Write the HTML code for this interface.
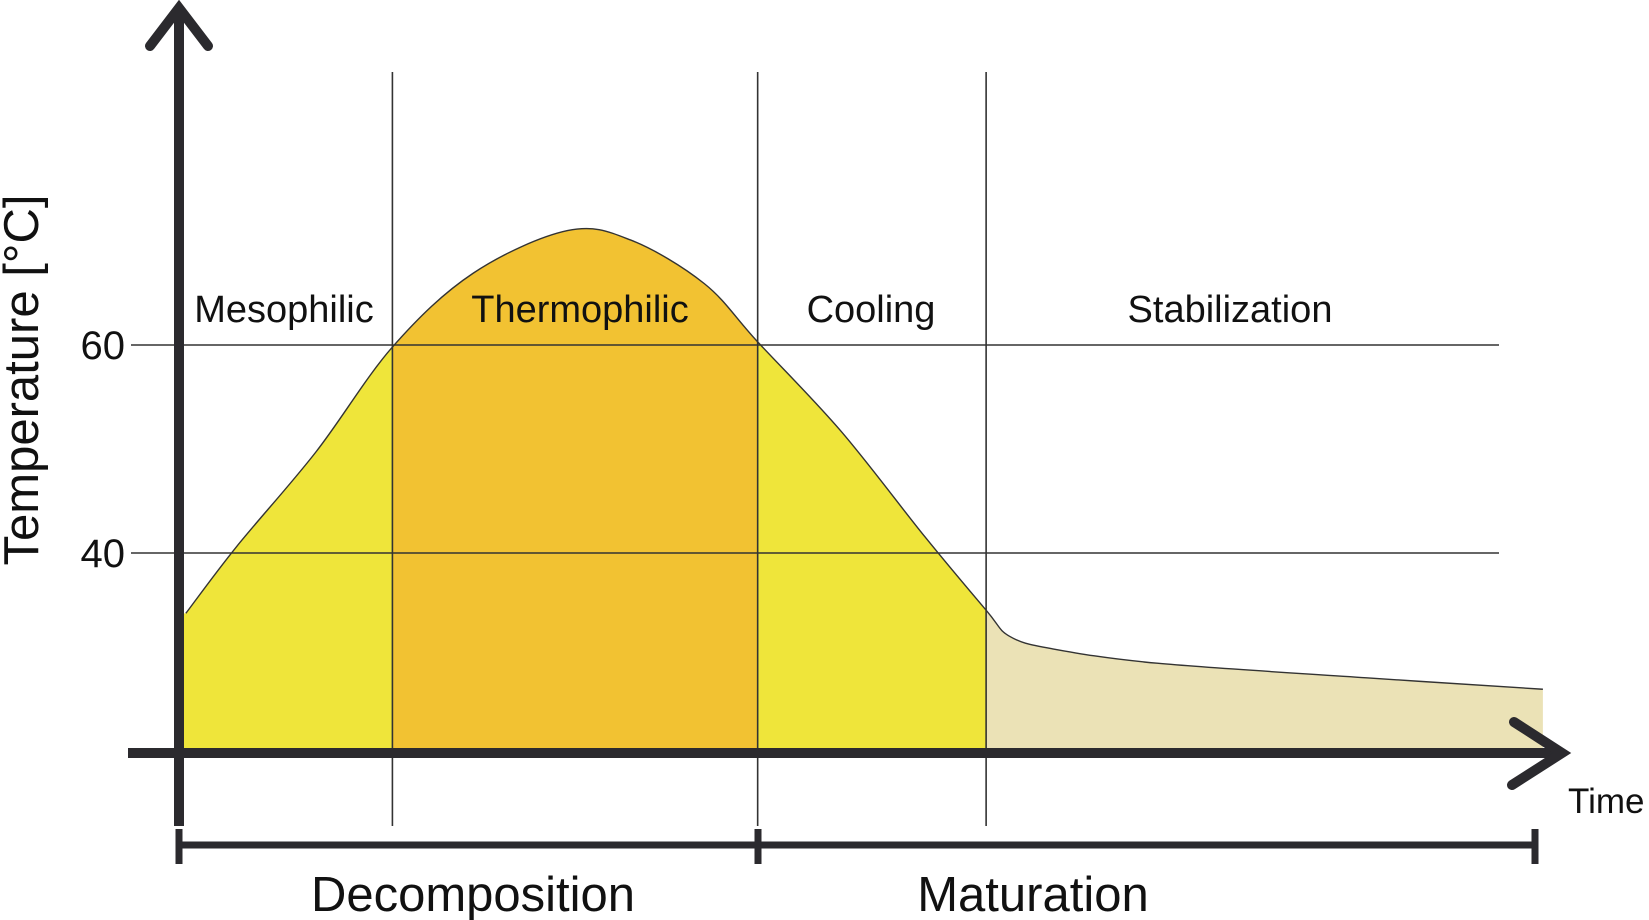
<!DOCTYPE html>
<html><head><meta charset="utf-8"><style>
html,body{margin:0;padding:0;background:#fff}
svg{display:block;font-family:"Liberation Sans",Arial,sans-serif}
</style></head><body>
<svg id="chart" width="1649" height="920" viewBox="0 0 1649 920">
<defs>
<clipPath id="c1"><rect x="0" y="0" width="392" height="920"/></clipPath>
<clipPath id="c2"><rect x="392" y="0" width="366" height="920"/></clipPath>
<clipPath id="c3"><rect x="758" y="0" width="228" height="920"/></clipPath>
<clipPath id="c4"><rect x="986" y="0" width="700" height="920"/></clipPath>
</defs>
<g id="fills"></g>
<g id="grid"></g>
<path id="curve" fill="none" stroke="#333" stroke-width="1.4"/>
<g id="axes"></g>
</svg>
<script>
const times=[0.5,4.2,10,15.6,21.5,28.4,33,38.4,42.3,48.4,54.5,59,60.7,63.8,71.5,86.8,99.7];
const temps=[34.2,40.6,49.7,59.8,66.9,71,70.1,65.9,60.3,51.7,41.6,34.5,32,30.8,29.4,28,26.9];
const tickValues=[40,60];
const phaseNames=["Mesophilic","Thermophilic","Cooling","Stabilization"];
const phaseBounds=[15.6,42.3,59];
const baseTemp=20.5;

const NS="http://www.w3.org/2000/svg";
const xS=t=>179+t*13.68;
const yS=T=>345-(T-60)*10.4;
function el(tag,attrs,parent,text){const e=document.createElementNS(NS,tag);for(const k in attrs)e.setAttribute(k,attrs[k]);if(text!==undefined)e.textContent=text;parent.appendChild(e);return e;}
const fills=document.getElementById('fills');
const grid=document.getElementById('grid');
const axes=document.getElementById('axes');

const pts=times.map((t,i)=>[xS(t),yS(temps[i])]);
let d="M"+pts[0][0]+","+pts[0][1];
for(let i=0;i<pts.length-1;i++){
  const p0=pts[Math.max(0,i-1)],p1=pts[i],p2=pts[i+1],p3=pts[Math.min(pts.length-1,i+2)];
  const c1=[p1[0]+(p2[0]-p0[0])/6,p1[1]+(p2[1]-p0[1])/6];
  const c2=[p2[0]-(p3[0]-p1[0])/6,p2[1]-(p3[1]-p1[1])/6];
  d+=" C"+c1[0]+","+c1[1]+" "+c2[0]+","+c2[1]+" "+p2[0]+","+p2[1];
}
const areaD=d+" L"+pts[pts.length-1][0]+","+yS(baseTemp)+" L"+xS(0)+","+yS(baseTemp)+" L"+xS(0)+","+pts[0][1]+" Z";
document.getElementById('curve').setAttribute('d',d);
const colors=["#efe53a","#f2c232","#efe53a","#ebe2b6"];
colors.forEach((c,i)=>{
  const p=el('path',{d:areaD,fill:c,'clip-path':'url(#c'+(i+1)+')'},fills);
  
  
});
tickValues.forEach(v=>{
  const l=el('line',{x1:131,x2:1499,y1:yS(v),y2:yS(v),stroke:'#333','stroke-width':1.6},grid);
  
  
  const t=el('text',{x:125,y:yS(v)+14,'text-anchor':'end','font-size':40,fill:'#111'},grid,String(v));
  
  
});
phaseBounds.forEach((b,i)=>{
  const l=el('line',{x1:xS(b),x2:xS(b),y1:72,y2:826,stroke:'#333','stroke-width':1.6},grid);
  
  
});
const labelX=[284,580,871,1230];
phaseNames.forEach((n,i)=>{
  const t=el('text',{x:labelX[i],y:322,'text-anchor':'middle','font-size':38,fill:'#111'},grid,n);
  
  
});
const A='#2b2a2e';
let a=el('line',{x1:179,x2:179,y1:8,y2:826,stroke:A,'stroke-width':10},axes);

a=el('polyline',{points:'150,46 179,8 208,46',fill:'none',stroke:A,'stroke-width':10,'stroke-linecap':'round'},axes);

a=el('line',{x1:128,x2:1560,y1:753,y2:753,stroke:A,'stroke-width':10},axes);

a=el('polyline',{points:'1514,722 1562,753 1512,785',fill:'none',stroke:A,'stroke-width':10,'stroke-linecap':'round'},axes);

a=el('text',{x:1568,y:813,'font-size':35,fill:'#111'},axes,'Time');

a=el('text',{x:0,y:0,'font-size':49,fill:'#111','text-anchor':'middle',transform:'translate(38,380) rotate(-90)'},axes,'Temperature [°C]');

a=el('line',{x1:179,x2:1535,y1:845,y2:845,stroke:A,'stroke-width':7},axes);

[179,758,1535].forEach((x,i)=>{
  const t=el('line',{x1:x,x2:x,y1:829,y2:864,stroke:A,'stroke-width':7},axes);
  
  
});
a=el('text',{x:473,y:911,'text-anchor':'middle','font-size':49,fill:'#111'},axes,'Decomposition');

a=el('text',{x:1033,y:911,'text-anchor':'middle','font-size':49,fill:'#111'},axes,'Maturation');

</script>
</body></html>
